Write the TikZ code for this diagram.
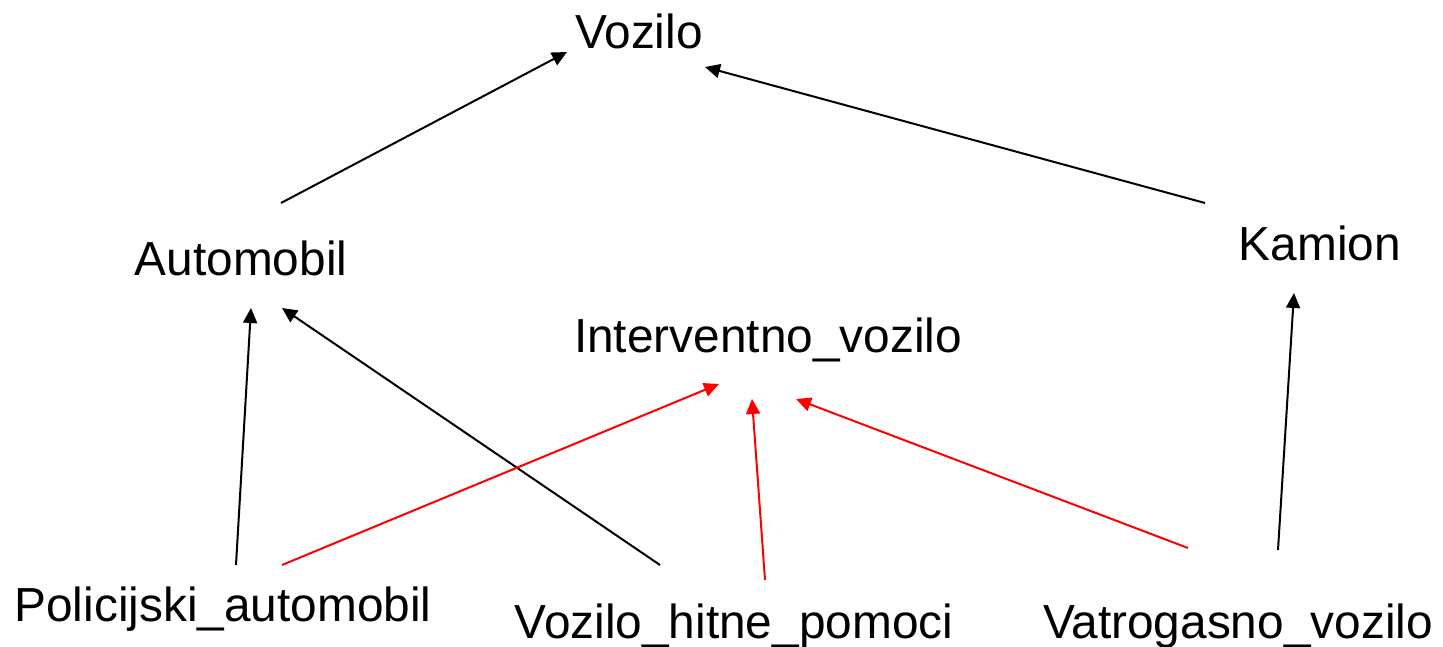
\documentclass[tikz,border=0pt]{standalone}
\usepackage{fontspec}
\setmainfont{Liberation Sans}
\usetikzlibrary{arrows.meta}
\definecolor{linkred}{RGB}{255,0,0}
\begin{document}
\begin{tikzpicture}[x=1pt,y=-1pt,
  lbl/.style={anchor=base,inner sep=0pt,font=\fontsize{47.8}{56}\selectfont},
  link/.style={line width=2pt,-{Triangle[length=15pt,width=14pt]}},
  redlink/.style={link,draw=linkred,-{Triangle[length=15pt,width=14pt,fill=linkred]}}]
\useasboundingbox (0,0) rectangle (1443,647);
\node[lbl] (voz) at (639,49) {Vozilo};
\node[lbl] (auto) at (241,276) {Automobil};
\node[lbl] (kam) at (1320,260) {Kamion};
\node[lbl] (int) at (768,352) {Interventno\_vozilo};
\node[lbl] (pol) at (223,621) {Policijski\_automobil};
\node[lbl] (hit) at (734,638) {Vozilo\_hitne\_pomoci};
\node[lbl] (vat) at (1238,638) {Vatrogasno\_vozilo};
\draw[link] ([shift={(40,-73)}]auto.base) -- ([shift={(-72,3)}]voz.base);
\draw[link] ([shift={(-115,-57)}]kam.base) -- ([shift={(66,18)}]voz.base);
\draw[link] ([shift={(13,-56)}]pol.base) -- ([shift={(10,32)}]auto.base);
\draw[link] ([shift={(-74,-73)}]hit.base) -- ([shift={(41,32)}]auto.base);
\draw[redlink] ([shift={(59,-56)}]pol.base) -- ([shift={(-49,32)}]int.base);
\draw[redlink] ([shift={(31,-58)}]hit.base) -- ([shift={(-16,47)}]int.base);
\draw[redlink] ([shift={(-50,-90)}]vat.base) -- ([shift={(28,47)}]int.base);
\draw[link] ([shift={(40,-88)}]vat.base) -- ([shift={(-26,33)}]kam.base);
\end{tikzpicture}
\end{document}
